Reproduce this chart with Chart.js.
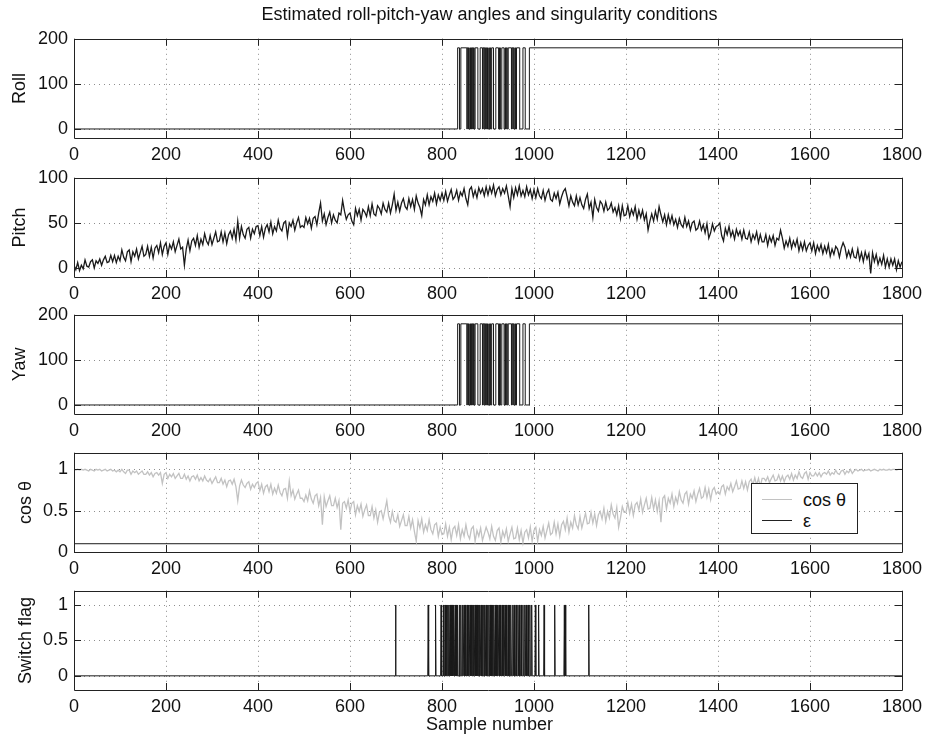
<!DOCTYPE html>
<html>
<head>
<meta charset="utf-8">
<title>Estimated roll-pitch-yaw angles and singularity conditions</title>
<script src="https://cdn.jsdelivr.net/npm/chart.js@4.4.1/dist/chart.umd.min.js"></script>
<style>
  html, body { margin: 0; padding: 0; background: #fff; }
  body {
    width: 928px; height: 740px; position: relative; overflow: hidden;
    font-family: "Liberation Sans", Arial, sans-serif; color: #111;
  }
  .panel { position: absolute; left: 0; width: 928px; height: 156px; }
  .label { position: absolute; font-size: 18px; line-height: 22px; white-space: nowrap; z-index: 5; }
  #legend {
    position: absolute; left: 751px; top: 483px; width: 105px; height: 49px;
    border: 1px solid #222; background: #fff; z-index: 5; font-size: 18px;
  }
  .lg-row { position: absolute; left: 0; height: 22px; line-height: 22px; }
  .lg-line { position: absolute; left: 10px; top: 10px; width: 30px; height: 1px; }
  .lg-text { position: absolute; left: 51px; top: 0; white-space: nowrap; }
</style>
</head>
<body>

<div class="label" style="left:74px;width:831px;top:3px;text-align:center">Estimated roll-pitch-yaw angles and singularity conditions</div>

<div class="panel" style="top:22px"><canvas id="rollChart"></canvas></div>
<div class="panel" style="top:161px"><canvas id="pitchChart"></canvas></div>
<div class="panel" style="top:298px"><canvas id="yawChart"></canvas></div>
<div class="panel" style="top:436px"><canvas id="cosChart"></canvas></div>
<div class="panel" style="top:574px"><canvas id="switchChart"></canvas></div>

<div id="legend">
  <div class="lg-row" style="top:5px;width:100%"><span class="lg-line" style="background:#c2c2c2"></span><span class="lg-text">cos θ</span></div>
  <div class="lg-row" style="top:26px;width:100%"><span class="lg-line" style="background:#222"></span><span class="lg-text">ε</span></div>
</div>

<div class="label" style="left:74px;width:831px;top:713px;text-align:center">Sample number</div>

<script>
// sample axis
const SAMPLE_MAX = 1800;
const SAMPLE_STEP = 4;   // pitch / cos values read every 4 samples
const xTicks = [0, 200, 400, 600, 800, 1000, 1200, 1400, 1600, 1800];

// roll and yaw jump between 0 and 180 deg; samples where the value flips (starts at 0)
const ROLL_HIGH = 180;
const rollToggles = [834, 838, 841, 854, 855, 857, 858, 859, 861, 862, 864, 865, 866,
  868, 869, 870, 872, 878, 883, 888, 889, 891, 892, 894, 895, 897, 899, 900, 902, 903, 905,
  906, 908, 912, 917, 923, 925, 927, 930, 935, 937, 938, 940, 942, 944, 951, 952, 954, 955,
  957, 959, 960, 962, 969, 976, 981, 990];
// yaw flips along with roll
const yawToggles = [834, 838, 841, 854, 855, 857, 858, 859, 861, 862, 864, 865, 866,
  868, 869, 870, 872, 878, 883, 888, 889, 891, 892, 894, 895, 897, 899, 900, 902, 903, 905,
  906, 908, 912, 917, 923, 925, 927, 930, 935, 937, 938, 940, 942, 944, 951, 952, 954, 955,
  957, 959, 960, 962, 969, 976, 981, 990];

// pitch (deg), one value every SAMPLE_STEP samples, one row per 100 samples
const pitch = [
  3, -2, 6, -3, 3, -1, 9, 2, 1, 7, 9, 0, 8, 5, 10, 3, 9, 13, 6, 7, 14, 7, 14, 6, 13,
  8, 20, 12, 8, 18, 20, 7, 18, 13, 21, 10, 17, 24, 13, 15, 24, 13, 23, 11, 22, 25, 17, 28, 15, 24,
  28, 15, 26, 21, 29, 18, 25, 32, 21, 23, 3, 21, 31, 19, 30, 33, 25, 36, 23, 32, 26, 38, 30, 26, 36,
  26, 33, 40, 29, 30, 40, 29, 39, 27, 37, 41, 33, 43, 31, 52, 33, 46, 37, 33, 43, 45, 33, 43, 38, 46,
  47, 36, 46, 34, 44, 48, 40, 51, 38, 46, 41, 53, 44, 41, 50, 52, 35, 50, 46, 53, 42, 50, 56, 45, 47,
  45, 56, 49, 55, 44, 55, 57, 48, 61, 72, 52, 60, 48, 56, 62, 50, 59, 53, 50, 61, 59, 75, 63, 54, 59,
  61, 52, 48, 66, 58, 65, 53, 65, 62, 57, 68, 58, 71, 60, 58, 69, 66, 60, 72, 65, 62, 72, 61, 70, 82,
  64, 73, 63, 72, 77, 68, 65, 77, 68, 76, 65, 80, 72, 67, 58, 76, 70, 81, 70, 79, 74, 83, 71, 81, 75,
  83, 75, 85, 74, 81, 87, 76, 79, 86, 75, 84, 80, 88, 77, 70, 87, 90, 79, 86, 78, 89, 83, 88, 80, 90,
  81, 90, 83, 92, 80, 87, 90, 81, 88, 83, 91, 80, 68, 88, 78, 89, 81, 91, 80, 86, 79, 90, 81, 87, 77,
  87, 78, 88, 80, 77, 86, 75, 83, 87, 76, 74, 83, 77, 84, 71, 79, 85, 88, 79, 69, 80, 73, 69, 80, 70,
  78, 70, 66, 76, 82, 66, 73, 56, 76, 67, 63, 74, 71, 63, 73, 64, 66, 72, 62, 67, 59, 69, 55, 69, 58,
  59, 69, 57, 65, 59, 68, 54, 64, 56, 64, 53, 60, 42, 52, 60, 52, 63, 54, 68, 59, 51, 59, 48, 59, 50,
  58, 48, 54, 45, 55, 48, 45, 56, 46, 52, 42, 50, 52, 42, 44, 52, 42, 48, 39, 49, 33, 39, 49, 41, 46,
  47, 50, 36, 30, 44, 37, 46, 35, 41, 32, 43, 36, 41, 32, 42, 33, 32, 40, 29, 37, 32, 40, 28, 37, 29,
  29, 37, 25, 35, 29, 36, 25, 33, 31, 42, 33, 22, 30, 24, 33, 22, 30, 24, 32, 19, 28, 20, 29, 19, 25,
  28, 19, 28, 16, 25, 19, 26, 16, 24, 17, 26, 13, 21, 15, 24, 21, 12, 22, 28, 23, 12, 19, 12, 21, 12,
  11, 21, 9, 17, 7, 18, 10, 16, -6, 17, 7, 15, 4, 11, 4, 14, 1, 10, 1, 10, 3, 10, -2, 8, 1,
  7
];

// cos(theta), one value every SAMPLE_STEP samples, one row per 100 samples
const cosTheta = [
  1.00, 0.99, 1.00, 0.99, 1.00, 0.99, 1.00, 0.99, 0.98, 1.00, 0.99, 0.98, 1.00, 0.99, 1.00, 0.98, 0.99, 1.00, 0.98, 0.99, 1.00, 0.98, 0.99, 0.97, 0.99,
  0.97, 1.00, 0.97, 0.95, 0.99, 0.99, 0.94, 0.98, 0.96, 0.98, 0.94, 0.96, 0.98, 0.94, 0.94, 0.97, 0.93, 0.96, 0.91, 0.95, 0.96, 0.93, 0.96, 0.83, 0.94,
  0.96, 0.89, 0.94, 0.91, 0.95, 0.89, 0.92, 0.95, 0.89, 0.89, 0.94, 0.88, 0.92, 0.86, 0.91, 0.92, 0.88, 0.93, 0.86, 0.90, 0.86, 0.92, 0.87, 0.85, 0.89,
  0.83, 0.87, 0.91, 0.84, 0.84, 0.89, 0.82, 0.87, 0.79, 0.86, 0.87, 0.82, 0.88, 0.79, 0.62, 0.80, 0.87, 0.81, 0.78, 0.83, 0.85, 0.76, 0.82, 0.78, 0.83,
  0.85, 0.74, 0.82, 0.71, 0.79, 0.81, 0.73, 0.82, 0.70, 0.77, 0.71, 0.81, 0.72, 0.68, 0.76, 0.77, 0.65, 0.86, 0.68, 0.75, 0.64, 0.70, 0.75, 0.65, 0.65,
  0.61, 0.69, 0.62, 0.74, 0.64, 0.59, 0.68, 0.70, 0.56, 0.66, 0.33, 0.67, 0.55, 0.62, 0.68, 0.56, 0.56, 0.65, 0.54, 0.62, 0.27, 0.59, 0.61, 0.53, 0.63,
  0.49, 0.59, 0.61, 0.45, 0.56, 0.49, 0.58, 0.43, 0.51, 0.57, 0.44, 0.44, 0.55, 0.41, 0.51, 0.36, 0.48, 0.50, 0.40, 0.51, 0.62, 0.44, 0.36, 0.49, 0.38,
  0.36, 0.45, 0.31, 0.38, 0.45, 0.32, 0.32, 0.43, 0.29, 0.39, 0.25, 0.13, 0.38, 0.29, 0.40, 0.24, 0.33, 0.26, 0.39, 0.27, 0.22, 0.33, 0.35, 0.19, 0.30,
  0.21, 0.22, 0.34, 0.19, 0.30, 0.15, 0.28, 0.31, 0.20, 0.33, 0.16, 0.27, 0.19, 0.33, 0.21, 0.16, 0.28, 0.31, 0.13, 0.26, 0.19, 0.29, 0.14, 0.22, 0.30,
  0.24, 0.16, 0.31, 0.19, 0.14, 0.26, 0.29, 0.12, 0.25, 0.18, 0.28, 0.13, 0.22, 0.30, 0.16, 0.17, 0.29, 0.15, 0.26, 0.11, 0.24, 0.27, 0.17, 0.30, 0.13,
  0.26, 0.30, 0.13, 0.27, 0.20, 0.31, 0.17, 0.26, 0.35, 0.21, 0.23, 0.36, 0.22, 0.34, 0.19, 0.33, 0.37, 0.27, 0.41, 0.24, 0.36, 0.29, 0.44, 0.33, 0.28,
  0.43, 0.29, 0.38, 0.47, 0.34, 0.35, 0.48, 0.35, 0.46, 0.32, 0.45, 0.49, 0.40, 0.53, 0.37, 0.49, 0.41, 0.57, 0.46, 0.41, 0.54, 0.30, 0.41, 0.55, 0.48,
  0.48, 0.60, 0.47, 0.58, 0.44, 0.57, 0.60, 0.51, 0.64, 0.48, 0.57, 0.65, 0.52, 0.53, 0.66, 0.52, 0.63, 0.49, 0.62, 0.36, 0.65, 0.68, 0.52, 0.65, 0.59,
  0.70, 0.55, 0.66, 0.59, 0.73, 0.63, 0.59, 0.70, 0.73, 0.58, 0.70, 0.65, 0.74, 0.61, 0.70, 0.77, 0.65, 0.67, 0.78, 0.66, 0.76, 0.63, 0.75, 0.78, 0.70,
  0.73, 0.70, 0.79, 0.81, 0.70, 0.79, 0.75, 0.83, 0.73, 0.79, 0.86, 0.76, 0.77, 0.86, 0.77, 0.85, 0.75, 0.85, 0.88, 0.81, 0.90, 0.81, 0.89, 0.79, 0.89,
  0.89, 0.86, 0.91, 0.84, 0.89, 0.93, 0.86, 0.87, 0.93, 0.86, 0.92, 0.85, 0.91, 0.93, 0.88, 0.95, 0.87, 0.93, 0.89, 0.97, 0.91, 0.89, 0.95, 0.97, 0.88,
  0.96, 0.92, 0.92, 0.96, 0.92, 0.96, 0.91, 0.95, 0.96, 0.94, 0.98, 0.93, 0.96, 0.94, 0.99, 0.95, 0.94, 0.98, 0.99, 0.94, 0.98, 0.96, 1.00, 0.95, 0.98,
  1.00, 0.98, 0.99, 1.00, 0.98, 0.99, 0.99, 1.00, 0.98, 0.99, 1.00, 0.99, 0.98, 1.00, 0.99, 1.00, 0.99, 0.99, 1.00, 0.99, 1.00, 1.00, 0.99, 1.00, 1.00,
  1.00
];
const epsilon = 0.1;

// samples where the switch flag is 1 (0 everywhere else)
const switchSamples = [699, 770, 786, 798, 803, 807, 810, 813, 815, 818, 820, 822, 824, 826,
  829, 831, 834, 838, 841, 845, 848, 851, 855, 858, 861, 864, 867, 869, 872, 874, 877, 880,
  882, 885, 888, 891, 893, 896, 899, 902, 905, 907, 910, 913, 916, 918, 921, 924, 927, 931,
  934, 937, 940, 944, 947, 950, 954, 957, 961, 965, 968, 972, 976, 980, 983, 987, 991, 995,
  1003, 1010, 1022, 1045, 1066, 1068, 1119];

Chart.defaults.font.family = '"Liberation Sans", Arial, sans-serif';
Chart.defaults.font.size = 18;
Chart.defaults.color = '#111';

// step series from a list of flip samples
function toggleSeries(toggles, high) {
  let state = 0;
  const pts = [{ x: 0, y: 0 }];
  toggles.forEach(s => {
    state = state ? 0 : high;
    pts.push({ x: s, y: state });
  });
  pts.push({ x: SAMPLE_MAX, y: state });
  return pts;
}

function sampledSeries(values) {
  return values.map((v, i) => ({ x: i * SAMPLE_STEP, y: v }));
}

function pulseSeries(samples) {
  const on = new Set(samples);
  const xs = new Set([0, SAMPLE_MAX]);
  samples.forEach(s => { xs.add(s - 1); xs.add(s); xs.add(s + 1); });
  return [...xs].sort((a, b) => a - b).map(x => ({ x, y: on.has(x) ? 1 : 0 }));
}

// MATLAB style box: dotted grid under the data, inward ticks and frame on top
const axesBox = {
  id: 'axesBox',
  beforeDatasetsDraw(chart) {
    const { ctx, chartArea: a, scales: { x, y } } = chart;
    ctx.save();
    ctx.strokeStyle = '#8e8e8e';
    ctx.lineWidth = 1;
    ctx.setLineDash([1, 4]);
    ctx.beginPath();
    x.ticks.forEach(t => {
      const px = Math.round(x.getPixelForValue(t.value)) + 0.5;
      ctx.moveTo(px, a.top); ctx.lineTo(px, a.bottom);
    });
    y.ticks.forEach(t => {
      const py = Math.round(y.getPixelForValue(t.value)) + 0.5;
      ctx.moveTo(a.left, py); ctx.lineTo(a.right, py);
    });
    ctx.stroke();
    ctx.restore();
  },
  afterDatasetsDraw(chart) {
    const { ctx, chartArea: a, scales: { x, y } } = chart;
    const len = 7;
    ctx.save();
    ctx.strokeStyle = '#222';
    ctx.lineWidth = 1;
    ctx.beginPath();
    x.ticks.forEach(t => {
      const px = Math.round(x.getPixelForValue(t.value)) + 0.5;
      ctx.moveTo(px, a.bottom); ctx.lineTo(px, a.bottom - len);
      ctx.moveTo(px, a.top); ctx.lineTo(px, a.top + len);
    });
    y.ticks.forEach(t => {
      const py = Math.round(y.getPixelForValue(t.value)) + 0.5;
      ctx.moveTo(a.left, py); ctx.lineTo(a.left + len, py);
      ctx.moveTo(a.right, py); ctx.lineTo(a.right - len, py);
    });
    ctx.rect(Math.round(a.left) + 0.5, Math.round(a.top) + 0.5,
      Math.round(a.right - a.left), Math.round(a.bottom - a.top));
    ctx.stroke();
    ctx.restore();
  }
};

function makePanel(canvasId, datasets, yMin, yMax, yTicks, yTitle, titlePad) {
  return new Chart(document.getElementById(canvasId), {
    type: 'line',
    data: { datasets },
    options: {
      responsive: true,
      maintainAspectRatio: false,
      animation: false,
      layout: { padding: { top: 12, right: 23, left: 0, bottom: 0 } },
      plugins: { legend: { display: false }, tooltip: { enabled: false } },
      elements: { point: { radius: 0 }, line: { borderWidth: 1, tension: 0 } },
      scales: {
        x: {
          type: 'linear', min: 0, max: SAMPLE_MAX,
          afterBuildTicks: s => { s.ticks = xTicks.map(v => ({ value: v })); },
          ticks: { padding: 6, autoSkip: false, maxRotation: 0, callback: v => String(v) },
          grid: { display: false, drawTicks: false },
          border: { display: false },
          afterFit: s => { s.height = 40; }
        },
        y: {
          type: 'linear', min: yMin, max: yMax,
          afterBuildTicks: s => { s.ticks = yTicks.map(v => ({ value: v })); },
          ticks: { padding: 6, callback: v => String(v) },
          grid: { display: false, drawTicks: false },
          border: { display: false },
          title: { display: true, text: yTitle, padding: { top: titlePad, bottom: 0 } },
          afterFit: s => { s.width = 74; }
        }
      }
    },
    plugins: [axesBox]
  });
}

makePanel('rollChart', [
  { data: toggleSeries(rollToggles, ROLL_HIGH), borderColor: '#1a1a1a', stepped: true }
], -20, 200, [0, 100, 200], 'Roll', 9);

makePanel('pitchChart', [
  { data: sampledSeries(pitch), borderColor: '#1a1a1a', borderWidth: 1.3 }
], -10, 100, [0, 50, 100], 'Pitch', 9);

makePanel('yawChart', [
  { data: toggleSeries(yawToggles, ROLL_HIGH), borderColor: '#1a1a1a', stepped: true }
], -20, 200, [0, 100, 200], 'Yaw', 9);

makePanel('cosChart', [
  { label: 'cos θ', data: sampledSeries(cosTheta), borderColor: '#c2c2c2', borderWidth: 1.3 },
  { label: 'ε', data: [{ x: 0, y: epsilon }, { x: SAMPLE_MAX, y: epsilon }], borderColor: '#1a1a1a' }
], 0, 1.2, [0, 0.5, 1], 'cos θ', 15);

makePanel('switchChart', [
  { data: pulseSeries(switchSamples), borderColor: '#1a1a1a' }
], -0.2, 1.2, [0, 0.5, 1], 'Switch flag', 15);
</script>
</body>
</html>
